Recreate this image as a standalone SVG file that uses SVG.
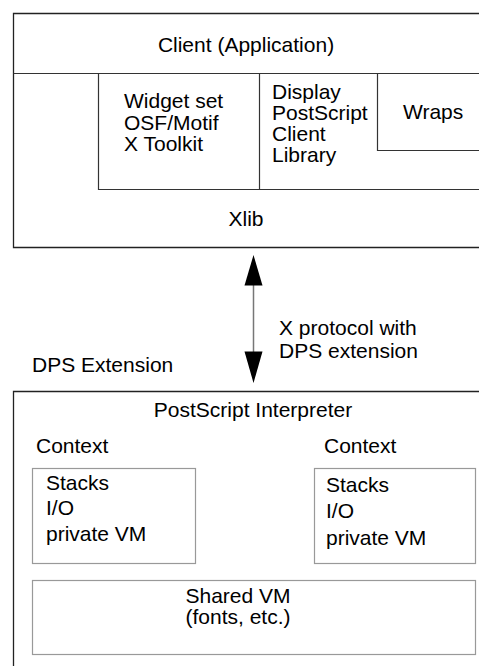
<svg xmlns="http://www.w3.org/2000/svg" width="479" height="666" viewBox="0 0 479 666">
<style>
text{font-family:"Liberation Sans",Arial,sans-serif;font-size:21px;fill:#000}
.outer{fill:none;stroke:#222;stroke-width:1.3}
.inner{fill:none;stroke:#333;stroke-width:1.2}
.light{fill:none;stroke:#999;stroke-width:1.2}
.mid{text-anchor:middle}
</style>
<g id="client">
<path class="outer" d="M479,13.5 L13.5,13.5 L13.5,247.5 L479,247.5"/>
<path class="inner" d="M13.5,73.5 L479,73.5"/>
<text class="mid" x="246" y="52">Client (Application)</text>
</g>
<g id="widget">
<path class="inner" d="M98.5,73.5 L98.5,189.5 L479,189.5"/>
<text x="124" y="108">Widget set</text>
<text x="124" y="130">OSF/Motif</text>
<text x="124" y="151">X Toolkit</text>
</g>
<g id="dpsclient">
<path class="inner" d="M259.5,73.5 L259.5,189.5"/>
<text x="272" y="99">Display</text>
<text x="272" y="120">PostScript</text>
<text x="272" y="141">Client</text>
<text x="272" y="162">Library</text>
</g>
<g id="wraps">
<path class="inner" d="M377.5,73.5 L377.5,150.5 L479,150.5"/>
<text x="403" y="119">Wraps</text>
</g>
<g id="xlib">
<text class="mid" x="246" y="226">Xlib</text>
</g>
<g id="connectors">
<line x1="253.5" y1="284" x2="253.5" y2="353" stroke="#777" stroke-width="1.5"/>
<path d="M253.5,255 L262.5,285.5 L244.5,285.5 Z" fill="#000"/>
<path d="M253.5,383 L262.5,351.5 L244.5,351.5 Z" fill="#000"/>
<text x="279" y="335">X protocol with</text>
<text x="279" y="358">DPS extension</text>
</g>
<g id="server">
<text x="32" y="372">DPS Extension</text>
<path class="outer" d="M13.5,666 L13.5,391.5 L479,391.5" stroke="#555"/>
<text class="mid" x="253" y="417">PostScript Interpreter</text>
</g>
<g id="context1">
<text x="36" y="453">Context</text>
<rect class="light" x="32.5" y="468.5" width="163" height="95"/>
<text x="46" y="490">Stacks</text>
<text x="46" y="515">I/O</text>
<text x="46" y="541">private VM</text>
</g>
<g id="context2">
<text x="324" y="453">Context</text>
<rect class="light" x="314.5" y="468.5" width="161" height="95"/>
<text x="326" y="492">Stacks</text>
<text x="326" y="518">I/O</text>
<text x="326" y="545">private VM</text>
</g>
<g id="shared">
<rect class="light" x="32.5" y="580.5" width="443" height="74"/>
<text class="mid" x="238" y="603">Shared VM</text>
<text class="mid" x="238" y="624">(fonts, etc.)</text>
</g>
</svg>
